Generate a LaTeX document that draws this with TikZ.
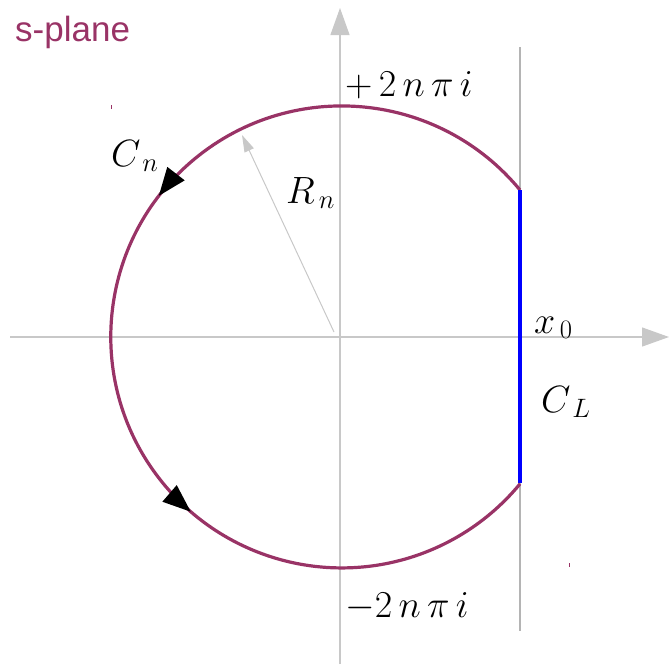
\documentclass[tikz,border=0pt]{standalone}
\usepackage{fix-cm}
\usepackage{fontspec}
\newfontfamily\labelsans{Liberation Sans}
\usetikzlibrary{arrows.meta,decorations.markings}
\definecolor{plum}{RGB}{153,51,102}
\definecolor{axisgray}{RGB}{200,200,200}
\definecolor{linegray}{RGB}{180,180,180}
\tikzset{
  axis/.style={draw=axisgray,line width=1.2pt,-{Triangle[length=27pt,width=19pt,fill=axisgray]}},
  vline/.style={draw=linegray,line width=1.5pt},
  contour/.style={draw=plum,line width=3.2pt},
  segment/.style={draw=blue,line width=4pt},
  radarrow/.style={draw=axisgray,line width=1pt,-{Triangle[length=17pt,width=10pt,fill=axisgray]}},
  mathlbl/.style={inner sep=0pt,anchor=base west,font=\fontsize{38}{44}\selectfont},
  tick/.style={draw=plum,line width=1pt},
  headtri/.style={fill=black,draw=none}
}
\begin{document}
\begin{tikzpicture}[x=1pt,y=-1pt]
\useasboundingbox (0,0) rectangle (669,664);
% axes
\coordinate (vbot) at (340,664);
\coordinate (vtop) at (340,8);
\coordinate (hleft) at (10,337);
\coordinate (hright) at (669,337);
\draw[axis] (vbot) -- (vtop);
\draw[axis] (hleft) -- (hright);
% gray vertical line at x0
\coordinate (lt) at (520,47);
\coordinate (lb) at (520,631);
\draw[vline] (lt) -- (lb);
% radius arrow
\coordinate (o) at (334,332);
\coordinate (rt) at (242,135);
\draw[radarrow] (o) -- (rt);
% contour
\coordinate (ct) at (520,190);
\coordinate (cb) at (520,483);
\draw[contour,postaction={decorate},decoration={markings,
   mark=at position 0.366 with {\fill[headtri] (0pt,0pt) -- (-28pt,11pt) -- (-28pt,-11pt) -- cycle;},
   mark=at position 0.675 with {\fill[headtri] (0pt,0pt) -- (-28pt,11pt) -- (-28pt,-11pt) -- cycle;}}]
  (ct) arc[start angle=-39.5,end angle=-320.5,radius=231];
\draw[segment] (ct) -- (cb);
% tiny marks
\coordinate (m1a) at (111,105);
\coordinate (m1b) at (111,109);
\coordinate (m2a) at (569,563);
\coordinate (m2b) at (569,567);
\draw[tick] (m1a) -- (m1b);
\draw[tick] (m2a) -- (m2b);
% labels
\node[inner sep=0pt,anchor=base west,text=plum,font=\labelsans\fontsize{35}{40}\selectfont] (sp) at (15,41) {s-plane};
\node[mathlbl] (top) at (345,96) {$+\,2\,n\,\pi\, i$};
\node[mathlbl] (bot) at (345,617) {$-2\,n\,\pi\, i$};
\node[mathlbl] (cn) at (111,166) {$C_{\,n}$};
\node[mathlbl] (rn) at (286,203) {$R_{\,n}$};
\node[mathlbl] (x0) at (534,333) {$x_{\,0}$};
\node[mathlbl] (cl) at (541,412) {$C_{\,L}$};
\end{tikzpicture}
\end{document}
